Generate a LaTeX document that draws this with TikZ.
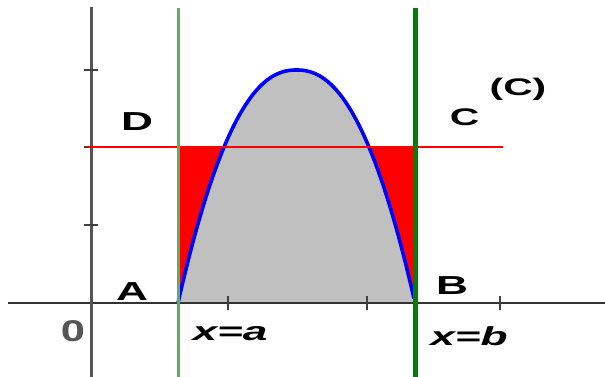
\documentclass[tikz,border=0pt]{standalone}
\usepackage{fontspec}
\setmainfont{Liberation Sans}
\usepackage{graphicx}
\newcommand{\wide}[1]{\scalebox{1.7}[1]{#1}}
\definecolor{areagrey}{HTML}{C0C0C0}
\definecolor{lightgreen}{HTML}{5DAE5D}
\definecolor{darkgreen}{HTML}{008000}
\definecolor{axisgrey}{HTML}{555555}
\begin{document}
\begin{tikzpicture}[x=1pt,y=-1pt,
  lbl/.style={inner sep=0pt, font=\fontsize{26}{26}\selectfont\bfseries},
  slbl/.style={inner sep=0pt, font=\fontsize{24}{24}\selectfont\bfseries},
  axisline/.style={line width=1.8pt, draw=black!80},
  tickline/.style={line width=2pt, draw=black!75}]
\useasboundingbox (0,0) rectangle (605,377);
% fills
\fill[red] (178,147) rectangle (415,303);
\fill[areagrey] (178,303) -- plot[domain=178:415,samples=160] (\x,{70+233*(abs(\x-296.5)/118.5)^2.25}) -- (415,303) -- cycle;
\draw[blue, line width=3.6pt, line join=round] plot[domain=178:414,samples=160] (\x,{70+233*(abs(\x-296.5)/118.5)^2.25});
% axes
\coordinate (xl) at (8,303);
\coordinate (xr) at (605,303);
\coordinate (yt) at (91,7);
\coordinate (yb) at (91,377);
\draw[axisline] (xl) -- (xr);
\draw[line width=3pt, draw=axisgrey] (yt) -- (yb);
% ticks
\foreach \ty in {70,147,225} \draw[tickline] (84,\ty) -- (98,\ty);
\foreach \tx in {228,367,500} \draw[tickline] (\tx,296) -- (\tx,310);
% red line
\coordinate (rl) at (88,147);
\coordinate (rr) at (503,147);
\draw[red, line width=2.5pt] (rl) -- (rr);
% green lines
\coordinate (gat) at (178,8);
\coordinate (gab) at (178,377);
\coordinate (gbt) at (415,8);
\coordinate (gbb) at (415,377);
\draw[lightgreen, line width=3pt] (gat) -- (gab);
\draw[darkgreen, line width=5pt] (gbt) -- (gbb);
% labels
\node[lbl] (D) at (137,122) {\wide{D}};
\node[slbl] (C) at (464.5,117) {\wide{C}};
\node[slbl] (Cc) at (518,89) {\wide{(C)}};
\node[lbl] (A) at (132,291.5) {\wide{A}};
\node[lbl] (B) at (452,286) {\wide{B}};
\node[lbl, font=\fontsize{30}{30}\selectfont\bfseries, text=axisgrey] (O) at (73,331) {\scalebox{1.45}[1]{0}};
\node[lbl, font=\fontsize{26}{26}\selectfont\bfseries\itshape] (xa) at (230,334) {\wide{x=a}};
\node[lbl, font=\fontsize{26}{26}\selectfont\bfseries\itshape] (xb) at (469,336) {\wide{x=b}};
\end{tikzpicture}
\end{document}
